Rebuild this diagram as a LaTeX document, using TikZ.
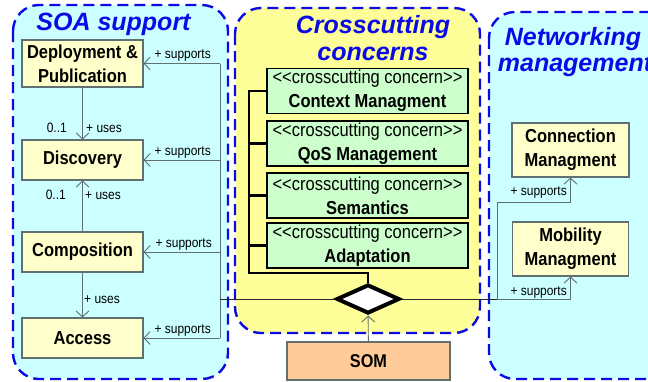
\documentclass[tikz,border=0pt]{standalone}
\usepackage{fontspec}
\setmainfont{Liberation Sans}[FakeStretch=0.88,Ligatures=TeXOff]
\newfontfamily\titlefont{Liberation Sans}[Ligatures=TeXOff]
\usetikzlibrary{arrows.meta,shapes.geometric}
\definecolor{pcyan}{HTML}{CCFFFF}
\definecolor{pyellow}{HTML}{FFFF99}
\definecolor{byellow}{HTML}{FFFFCC}
\definecolor{bgreen}{HTML}{CCFFCC}
\definecolor{borange}{HTML}{FFCC99}
\definecolor{dblue}{HTML}{0A0AE6}
\definecolor{cgray}{RGB}{96,112,112}
\begin{document}
\begin{tikzpicture}[x=1pt,y=-1pt,
  panel/.style={draw=dblue, line width=2.4pt, dash pattern=on 11pt off 6pt, rounded corners=26pt},
  ptitle/.style={text=dblue, font=\titlefont\bfseries\itshape\fontsize{25}{29}\selectfont, inner sep=0pt, anchor=base},
  ubox/.style={draw=cgray, line width=1.1pt, fill=byellow, inner sep=0pt, align=center, font=\bfseries\fontsize{18.75}{24}\selectfont},
  cbox/.style={draw=black, line width=1.8pt, fill=bgreen, minimum width=201pt, minimum height=45pt, inner sep=0pt, align=center, font=\fontsize{18.75}{24}\selectfont},
  conn/.style={draw=cgray, line width=0.9pt},
  arr/.style={conn, -{Straight Barb[length=6pt,width=13pt,line width=0.9pt]}},
  lbl/.style={font=\fontsize{13.6}{16}\selectfont, inner sep=0pt},
  bracket/.style={draw=black, line width=2.4pt},
]
\clip (0,0) rectangle (648,381);
\fill[white] (0,0) rectangle (648,381);

% panels
\draw[panel, fill=pcyan] (13,5) rectangle (228,379);
\draw[panel, fill=pyellow] (235,8) rectangle (480,333);
\draw[panel, fill=pcyan] (489,12) rectangle (700,379);

% titles
\node[ptitle] (t1) at (113.5,30) {SOA support};
\node[ptitle] (t2a) at (373,33) {Crosscutting};
\node[ptitle] (t2b) at (373,60) {concerns};
\node[ptitle] (t3a) at (573,45) {Networking};
\node[ptitle] (t3b) at (575,71) {management};

% SOA boxes
\node[ubox, minimum width=121pt, minimum height=47pt] (dep) at (82.5,63.5) {Deployment \&\\Publication};
\node[ubox, minimum width=121pt, minimum height=40pt] (disc) at (82.5,160) {Discovery};
\node[ubox, minimum width=121pt, minimum height=40pt] (comp) at (82.5,252) {Composition};
\node[ubox, minimum width=121pt, minimum height=40pt] (acc) at (82.5,338) {Access};

% networking boxes
\node[ubox, minimum width=117pt, minimum height=54pt] (cm) at (570.5,150) {Connection\\Managment};
\node[ubox, minimum width=116pt, minimum height=54pt] (mm) at (570.5,249) {Mobility\\Managment};

% crosscutting concerns
\node[cbox] (c1) at (367.5,91) {<<crosscutting concern>>\\\textbf{Context Managment}};
\node[cbox] (c2) at (367.5,143.5) {<<crosscutting concern>>\\\textbf{QoS Management}};
\node[cbox] (c3) at (367.5,195.5) {<<crosscutting concern>>\\\textbf{Semantics}};
\node[cbox] (c4) at (367.5,245.5) {<<crosscutting concern>>\\\textbf{Adaptation}};

% diamond and SOM
\node[draw=black, line width=4pt, fill=white, diamond, minimum width=63pt, minimum height=29pt, inner sep=0pt] (dia) at (368,299) {};
\node[draw=cgray, line width=1.1pt, fill=borange, minimum width=163pt, minimum height=38pt, inner sep=0pt, font=\bfseries\fontsize{18.5}{22}\selectfont] (som) at (368.5,361) {SOM};

% bracket
\coordinate (bx) at (249,273);
\draw[bracket] (c1.west) -- (c1.west -| bx) -- (bx) -- (bx -| dia.north) -- (dia.north);
\draw[bracket] (c2.west) -- (c2.west -| bx);
\draw[bracket] (c3.west) -- (c3.west -| bx);
\draw[bracket] (c4.west) -- (c4.west -| bx);

\draw[arr] (som) -- (dia);

% uses
\draw[arr] (dep) -- (disc);
\draw[arr] (comp) -- (disc);
\draw[arr] (comp) -- (acc);
\node[lbl, anchor=base east] (m1) at (67,132) {0..1};
\node[lbl, anchor=base west] (u1) at (86,132) {+ uses};
\node[lbl, anchor=base east] (m2) at (66,199) {0..1};
\node[lbl, anchor=base west] (u2) at (85,199) {+ uses};
\node[lbl, anchor=base west] (u3) at (84,303) {+ uses};

% supports bus (left)
\coordinate (busx) at (220,0);
\draw[conn] (dep.east -| busx) -- (acc.east -| busx);
\draw[arr] (dep.east -| busx) -- (dep.east);
\draw[arr] (disc.east -| busx) -- (disc.east);
\draw[arr] (comp.east -| busx) -- (comp.east);
\draw[arr] (acc.east -| busx) -- (acc.east);
\node[lbl, anchor=base east] (s1) at (211,58) {+ supports};
\node[lbl, anchor=base east] (s2) at (211,155) {+ supports};
\node[lbl, anchor=base east] (s3) at (212,247) {+ supports};
\node[lbl, anchor=base east] (s4) at (211,333) {+ supports};

% horizontal through diamond
\coordinate (hl) at (220,299);
\coordinate (hr) at (497,299);
\coordinate (hc) at (497,202);
\draw[black!85, line width=0.8pt] (hl) -- (dia.west);
\draw[black!85, line width=0.8pt] (dia.east) -- (hr);
\draw[arr] (hr) -| (mm.south);
\draw[arr] (hr) -- (hc) -| (cm.south);
\node[lbl, anchor=base east] (s5) at (567,195) {+ supports};
\node[lbl, anchor=base east] (s6) at (567,295) {+ supports};
\end{tikzpicture}
\end{document}
